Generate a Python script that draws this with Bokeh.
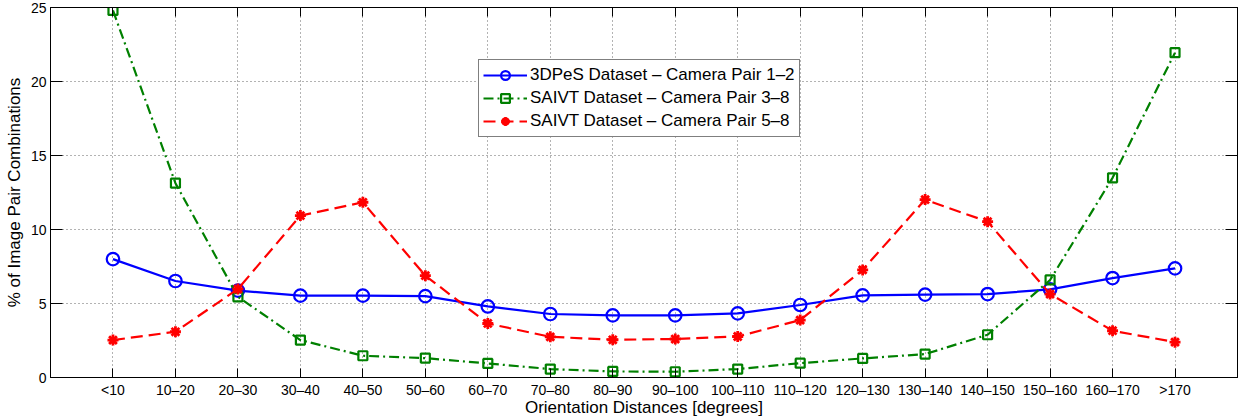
from bokeh.plotting import figure
from bokeh.models import (FactorRange, Range1d, CategoricalAxis, LinearAxis,
                          Legend, LegendItem, FixedTicker, CustomLabelingPolicy)
from bokeh.embed import file_html
from bokeh.resources import INLINE

# Orientation-distance bins (degrees)
categories = ["<10", "10–20", "20–30", "30–40", "40–50", "50–60", "60–70",
              "70–80", "80–90", "90–100", "100–110", "110–120", "120–130",
              "130–140", "140–150", "150–160", "160–170", ">170"]

# % of image pair combinations per bin
pes3d_pair_1_2 = [8.0, 6.52, 5.87, 5.53, 5.53, 5.5, 4.8, 4.29, 4.2, 4.2,
                  4.33, 4.9, 5.55, 5.6, 5.64, 5.95, 6.72, 7.37]
saivt_pair_3_8 = [24.8, 13.13, 5.45, 2.53, 1.47, 1.31, 0.95, 0.57, 0.41, 0.39,
                  0.57, 0.97, 1.29, 1.58, 2.89, 6.59, 13.49, 21.95]
saivt_pair_5_8 = [2.53, 3.09, 5.98, 10.94, 11.84, 6.88, 3.65, 2.75, 2.55, 2.6,
                  2.77, 3.88, 7.27, 12.02, 10.53, 5.64, 3.16, 2.39]

y_ticks = [0, 5, 10, 15, 20, 25]

FONT = "Liberation Sans"

p = figure(width=1242, height=419,
           x_range=FactorRange(factors=categories, range_padding=0.5,
                               range_padding_units="absolute"),
           y_range=Range1d(0, 25),
           output_backend="svg", toolbar_location=None,
           min_border_left=50, min_border_right=5,
           min_border_top=7, min_border_bottom=42)

p.background_fill_color = "white"
p.border_fill_color = "white"
p.outline_line_color = "black"
p.outline_line_width = 1

# Bottom / left axes
for ax in (p.xaxis[0], p.yaxis[0]):
    ax.axis_line_color = "black"
    ax.major_tick_line_color = "black"
    ax.major_tick_out = 0
    ax.minor_tick_out = 0
    ax.minor_tick_in = 0
    ax.major_label_text_font = FONT
    ax.major_label_text_font_size = "14px"
    ax.major_label_text_color = "black"
    ax.axis_label_text_font = FONT
    ax.axis_label_text_font_size = "17px"
    ax.axis_label_text_font_style = "normal"
    ax.axis_label_text_color = "black"

p.xaxis[0].major_tick_in = 9
p.xaxis[0].major_label_standoff = 4
p.xaxis[0].axis_label = "Orientation Distances [degrees]"
p.xaxis[0].axis_label_standoff = -3

p.yaxis[0].ticker = FixedTicker(ticks=y_ticks)
p.yaxis[0].major_tick_in = 12
p.yaxis[0].major_label_standoff = 4
p.yaxis[0].axis_label = "% of Image Pair Combinations"
p.yaxis[0].axis_label_standoff = 4

# Mirror ticks on top and right; their labels are suppressed
no_labels = CustomLabelingPolicy(code="""
    const all = Array.from(indices)
    for (const i of all) indices.unset(i)
    return indices
""")
top = CategoricalAxis(major_tick_in=9, major_tick_out=0,
                      major_label_text_font_size="0px",
                      major_label_policy=no_labels,
                      major_label_standoff=0, axis_line_color="black")
right = LinearAxis(ticker=FixedTicker(ticks=y_ticks), major_tick_in=12,
                   major_tick_out=0, minor_tick_in=0, minor_tick_out=0,
                   major_label_text_font_size="0px",
                   major_label_policy=no_labels,
                   major_label_standoff=0, axis_line_color="black")
p.add_layout(top, "above")
p.add_layout(right, "right")

# Dotted grid
for g in (p.xgrid[0], p.ygrid[0]):
    g.grid_line_color = "#666666"
    g.grid_line_dash = "1 3"
    g.grid_line_width = 1
p.ygrid[0].ticker = FixedTicker(ticks=y_ticks)

# Series
blue = "#0000FF"
green = "#008000"
red = "#FF0000"

l1 = p.line(categories, pes3d_pair_1_2, line_color=blue, line_width=2.2)
m1 = p.scatter(categories, pes3d_pair_1_2, marker="circle", size=12.5,
               fill_color="white", fill_alpha=0, line_color=blue, line_width=2.2)

l2 = p.line(categories, saivt_pair_3_8, line_color=green, line_width=2.2,
            line_dash="10 4 2 4")
m2 = p.scatter(categories, saivt_pair_3_8, marker="square", size=9,
               fill_alpha=0, line_color=green, line_width=2.2)

l3 = p.line(categories, saivt_pair_5_8, line_color=red, line_width=2.2,
            line_dash="12 6")
m3 = p.scatter(categories, saivt_pair_5_8, marker="asterisk", size=11,
               line_color=red, line_width=2.8)

legend = Legend(items=[
    LegendItem(label="3DPeS Dataset – Camera Pair 1–2", renderers=[l1, m1]),
    LegendItem(label="SAIVT Dataset – Camera Pair 3–8", renderers=[l2, m2]),
    LegendItem(label="SAIVT Dataset – Camera Pair 5–8", renderers=[l3, m3]),
], location=(428, 240))
legend.border_line_color = "black"
legend.border_line_width = 1
legend.background_fill_color = "white"
legend.background_fill_alpha = 1
legend.label_text_font = FONT
legend.label_text_font_size = "17px"
legend.label_text_color = "black"
legend.glyph_width = 44
legend.glyph_height = 22
legend.label_height = 22
legend.label_standoff = 3
legend.spacing = 1
legend.padding = 4
legend.margin = 0
p.add_layout(legend)

open("out.html", "w").write(file_html(p, INLINE))
